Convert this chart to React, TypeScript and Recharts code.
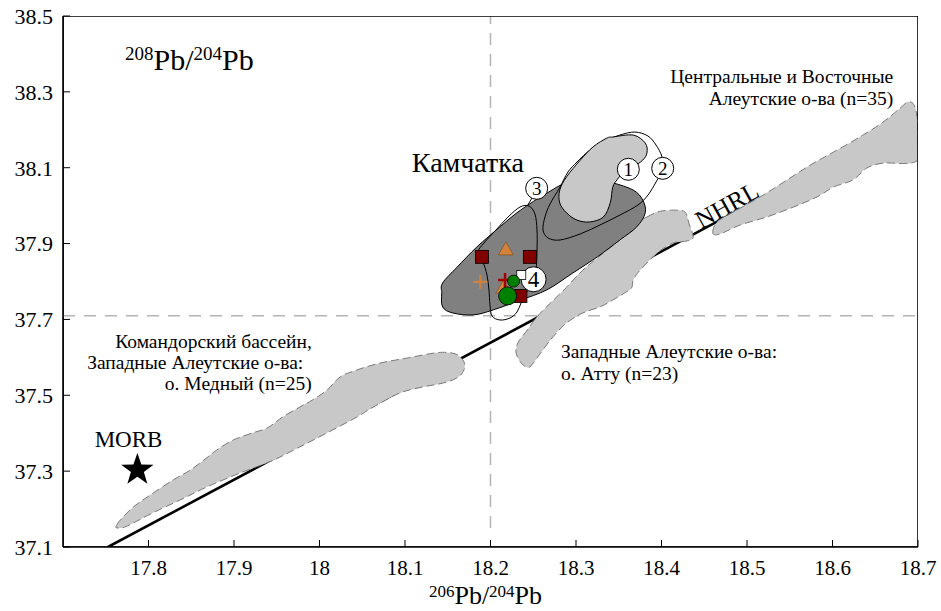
import React from 'react';
import { ScatterChart, Scatter, XAxis, YAxis } from 'recharts';

const FONT = "'Liberation Serif', 'DejaVu Serif', 'Times New Roman', serif";

// axis ticks
const xTicks = [17.8, 17.9, 18, 18.1, 18.2, 18.3, 18.4, 18.5, 18.6, 18.7];
const yTicks = [37.1, 37.3, 37.5, 37.7, 37.9, 38.1, 38.3, 38.5];

// reference lines
const frame = [[17.7, 37.1], [18.7, 37.1], [18.7, 38.5], [17.7, 38.5], [17.7, 37.1]];
const nhrl = [[17.7526, 37.1], [18.7, 38.2407]];
const vDash = [[18.2, 37.15], [18.2, 38.5]];
const hDash = [[17.7, 37.71], [18.7, 37.71]];

// fields (outlines in data units)
const medny = [
  [17.763, 37.158], [17.767, 37.171], [17.782, 37.205], [17.802, 37.237], [17.829, 37.277],
  [17.849, 37.303], [17.868, 37.335], [17.88, 37.356], [17.899, 37.382], [17.922, 37.401],
  [17.939, 37.414], [17.957, 37.443], [17.977, 37.469], [17.992, 37.488], [18.009, 37.514],
  [18.024, 37.548], [18.044, 37.567], [18.071, 37.585], [18.102, 37.598], [18.133, 37.611],
  [18.149, 37.613], [18.161, 37.607], [18.169, 37.588], [18.169, 37.567], [18.161, 37.546],
  [18.144, 37.532], [18.121, 37.522], [18.094, 37.506], [18.063, 37.469], [18.044, 37.443],
  [18.009, 37.401], [17.977, 37.364], [17.946, 37.329], [17.907, 37.295], [17.868, 37.258],
  [17.837, 37.224], [17.805, 37.19], [17.782, 37.163], [17.77, 37.151], [17.762, 37.151],
];
const attu = [
  [18.383, 37.97], [18.398, 37.985], [18.418, 37.988], [18.428, 37.982], [18.432, 37.954],
  [18.437, 37.917], [18.43, 37.907], [18.413, 37.901], [18.395, 37.875], [18.375, 37.83],
  [18.367, 37.804], [18.365, 37.783], [18.357, 37.77], [18.343, 37.751], [18.328, 37.733],
  [18.308, 37.717], [18.289, 37.691], [18.273, 37.654], [18.261, 37.619], [18.25, 37.585],
  [18.244, 37.573], [18.236, 37.585], [18.23, 37.611], [18.232, 37.638], [18.243, 37.672],
  [18.254, 37.706], [18.27, 37.743], [18.289, 37.785], [18.308, 37.83], [18.332, 37.875],
  [18.355, 37.917], [18.371, 37.954],
];
const central = [
  [18.46, 37.928], [18.465, 37.957], [18.484, 37.983], [18.519, 38.028], [18.547, 38.068],
  [18.574, 38.107], [18.601, 38.141], [18.632, 38.181], [18.659, 38.22], [18.679, 38.257],
  [18.688, 38.273], [18.695, 38.267], [18.699, 38.234], [18.7, 38.173], [18.7, 38.126],
  [18.695, 38.114], [18.682, 38.111], [18.659, 38.112], [18.64, 38.099], [18.624, 38.068],
  [18.601, 38.049], [18.582, 38.023], [18.554, 37.996], [18.523, 37.97], [18.492, 37.949],
  [18.468, 37.925],
];
const kamchatka = [
  [18.143, 37.77], [18.144, 37.796], [18.161, 37.838], [18.184, 37.891], [18.211, 37.944],
  [18.235, 37.988], [18.266, 38.033], [18.289, 38.06], [18.32, 38.068], [18.343, 38.06],
  [18.367, 38.041], [18.378, 38.015], [18.381, 37.981], [18.371, 37.944], [18.351, 37.909],
  [18.325, 37.865], [18.296, 37.822], [18.266, 37.778], [18.235, 37.751], [18.203, 37.725],
  [18.18, 37.712], [18.156, 37.717], [18.144, 37.733],
];
const field1 = [
  [18.343, 38.181], [18.367, 38.186], [18.381, 38.165], [18.383, 38.139], [18.378, 38.12],
  [18.367, 38.102], [18.355, 38.086], [18.348, 38.068], [18.343, 38.049], [18.34, 38.007],
  [18.332, 37.97], [18.316, 37.957], [18.301, 37.962], [18.289, 37.981], [18.281, 38.007],
  [18.281, 38.041], [18.289, 38.076], [18.305, 38.12], [18.32, 38.155], [18.336, 38.178],
];
const field2 = [
  [18.2813, 38.049], [18.2906, 38.0887], [18.3012, 38.115], [18.3164, 38.1467], [18.3339, 38.1704],
  [18.3515, 38.1862], [18.369, 38.1941], [18.3842, 38.1836], [18.3936, 38.1598], [18.4006, 38.1282],
  [18.4006, 38.0939], [18.3936, 38.0623], [18.3842, 38.028], [18.3725, 38.0017], [18.3515, 37.9753],
  [18.328, 37.9489], [18.3047, 37.9252], [18.2813, 37.9094], [18.2673, 37.9147], [18.2614, 37.9358],
  [18.2637, 37.97], [18.2696, 38.0043],
];
const field34 = [
  [18.2345, 37.9964], [18.2205, 37.97], [18.2064, 37.9358], [18.1924, 37.9015], [18.1854, 37.8777],
  [18.1912, 37.8514], [18.1959, 37.8171], [18.1982, 37.7776], [18.1994, 37.738], [18.2018, 37.709],
  [18.2111, 37.6985], [18.2228, 37.7037], [18.231, 37.7196], [18.2357, 37.7433], [18.2415, 37.7697],
  [18.2485, 37.7908], [18.2532, 37.8303], [18.2544, 37.883], [18.2544, 37.9358], [18.252, 37.9779],
  [18.245, 37.999],
];
const link3 = [[18.2485, 38.02], [18.243, 37.999]];

// samples
const squares = [[18.19, 37.865], [18.246, 37.865], [18.235, 37.762]];
const triangles = [[18.218, 37.886], [18.215, 37.785]];
const orangePlus = [[18.188, 37.799]];
const redPlus = [[18.217, 37.804]];
const whiteSquare = [[18.236, 37.817]];
const greenSmall = [[18.227, 37.801]];
const greenBig = [[18.22, 37.762]];
const morb = [[17.787, 37.303]];
const numbered = [
  { x: 18.3612, y: 38.0958, n: '1' },
  { x: 18.4014, y: 38.0984, n: '2' },
  { x: 18.254, y: 38.0457, n: '3' },
];
const numbered4 = [{ x: 18.2504, y: 37.8058, n: '4' }];

// texts
const kamchatkaLabel = [{ x: 18.108, y: 38.089, text: 'Камчатка' }];
const centralLabel = [
  { x: 18.671, y: 38.323, text: 'Центральные и Восточные' },
  { x: 18.671, y: 38.265, text: 'Алеутские о-ва (n=35)' },
];
const mednyLabel = [
  { x: 17.991, y: 37.625, text: 'Командорский бассейн,' },
  { x: 17.981, y: 37.569, text: 'Западные Алеутские о-ва:' },
  { x: 17.991, y: 37.514, text: 'о. Медный (n=25)' },
];
const attuLabel = [
  { x: 18.2825, y: 37.598, text: 'Западные Алеутские о-ва:' },
  { x: 18.2825, y: 37.54, text: 'о. Атту (n=23)' },
];
const morbLabel = [{ x: 17.737, y: 37.364, text: 'MORB' }];
const nhrlLabel = [{ x: 18.4766, y: 38.0017, text: 'NHRL' }];
const yTitlePos = [{ x: 17.7725, y: 38.358, a: '208', b: '204' }];

const pts = (arr: number[][]) => arr.map(([x, y]) => ({ x, y }));
const none = () => <g />;

// closed Catmull-Rom curve factory (passes through all outline points)
const smoothClosed = (context: any) => {
  let p: number[][] = [];
  return {
    areaStart() {},
    areaEnd() {},
    lineStart() {
      p = [];
    },
    point(x: number, y: number) {
      p.push([+x, +y]);
    },
    lineEnd() {
      const n = p.length;
      if (!n) return;
      context.moveTo(p[0][0], p[0][1]);
      const t = 1 / 6;
      for (let i = 0; i < n; i++) {
        const p0 = p[(i - 1 + n) % n];
        const p1 = p[i];
        const p2 = p[(i + 1) % n];
        const p3 = p[(i + 2) % n];
        context.bezierCurveTo(
          p1[0] + (p2[0] - p0[0]) * t,
          p1[1] + (p2[1] - p0[1]) * t,
          p2[0] - (p3[0] - p1[0]) * t,
          p2[1] - (p3[1] - p1[1]) * t,
          p2[0],
          p2[1],
        );
      }
      context.closePath();
    },
  };
};

const path = (
  key: string,
  data: number[][],
  fill: string,
  stroke: string,
  sw: number,
  dash?: string,
  curve: any = smoothClosed,
) => (
  <Scatter
    key={key}
    data={pts(data)}
    isAnimationActive={false}
    shape={none}
    line={{ fill, stroke, strokeWidth: sw, strokeDasharray: dash }}
    lineType="joint"
    lineJointType={curve}
  />
);

const pget = (p: any, k: string) => (p.payload && p.payload[k] !== undefined ? p.payload[k] : p[k]);

const textShape = (anchor: string, size: number) => (p: any) => (
  <text x={p.cx} y={p.cy} textAnchor={anchor} fontSize={size} fontFamily={FONT} fill="#000">
    {pget(p, 'text')}
  </text>
);

const squareShape = (size: number, fill: string) => (p: any) => (
  <rect x={p.cx - size / 2} y={p.cy - size / 2} width={size} height={size} fill={fill} stroke="#000" strokeWidth={0.8} />
);
const circleShape = (r: number, fill: string) => (p: any) => (
  <circle cx={p.cx} cy={p.cy} r={r} fill={fill} stroke="#000" strokeWidth={0.8} />
);
const triangleShape = (p: any) => (
  <polygon
    points={`${p.cx},${p.cy - 7} ${p.cx + 7.5},${p.cy + 6} ${p.cx - 7.5},${p.cy + 6}`}
    fill="#D2823A"
    stroke="#7a4a1a"
    strokeWidth={0.6}
  />
);
const plusShape = (color: string, s: number, w: number) => (p: any) => (
  <g stroke={color} strokeWidth={w}>
    <line x1={p.cx - s} y1={p.cy} x2={p.cx + s} y2={p.cy} />
    <line x1={p.cx} y1={p.cy - s} x2={p.cx} y2={p.cy + s} />
  </g>
);
const starShape = (p: any) => {
  const R = 17;
  const r = 6.8;
  const c: string[] = [];
  for (let i = 0; i < 10; i++) {
    const rad = i % 2 === 0 ? R : r;
    const a = -Math.PI / 2 + (i * Math.PI) / 5;
    c.push(`${p.cx + rad * Math.cos(a)},${p.cy + rad * Math.sin(a)}`);
  }
  return <polygon points={c.join(' ')} fill="#000" />;
};
const numberShape = (r: number, fs: number) => (p: any) => (
  <g>
    <circle cx={p.cx} cy={p.cy} r={r} fill="#fff" stroke="#000" strokeWidth={1} />
    <text x={p.cx} y={p.cy + fs * 0.34} textAnchor="middle" fontSize={fs} fontFamily={FONT} fill="#000">
      {pget(p, 'n')}
    </text>
  </g>
);
const nhrlShape = (p: any) => (
  <text
    x={p.cx}
    y={p.cy}
    textAnchor="middle"
    dominantBaseline="central"
    fontSize={25}
    fontFamily={FONT}
    fill="#000"
    transform={`rotate(-29 ${p.cx} ${p.cy})`}
  >
    {pget(p, 'text')}
  </text>
);
const pbTitleShape = (p: any) => (
  <text x={p.cx} y={p.cy} fontFamily={FONT} fontSize={30} fill="#000">
    <tspan fontSize={19} dy={-10}>{pget(p, 'a')}</tspan>
    <tspan fontSize={30} dy={10}>Pb/</tspan>
    <tspan fontSize={19} dy={-10}>{pget(p, 'b')}</tspan>
    <tspan fontSize={30} dy={10}>Pb</tspan>
  </text>
);

const XTitle = (props: any) => {
  const vb = props.viewBox || { x: 63, y: 547, width: 855, height: 64 };
  const cx = vb.x + vb.width / 2 - 5;
  const y = vb.y + 57;
  return (
    <text x={cx} y={y} textAnchor="middle" fontFamily={FONT} fontSize={26} fill="#000">
      <tspan fontSize={17} dy={-7}>206</tspan>
      <tspan fontSize={26} dy={7}>Pb/</tspan>
      <tspan fontSize={17} dy={-7}>204</tspan>
      <tspan fontSize={26} dy={7}>Pb</tspan>
    </text>
  );
};

const sym = (key: string, data: any[], shape: any) => (
  <Scatter key={key} data={data} isAnimationActive={false} shape={shape} />
);

export default function App() {
  return (
    <div style={{ position: 'absolute', left: 0, top: 0, background: '#fff', fontFamily: FONT }}>
      <ScatterChart width={941} height={611} margin={{ top: 16, right: 23, bottom: 0, left: 0 }}>
        <XAxis
          dataKey="x"
          type="number"
          domain={[17.7, 18.7]}
          allowDataOverflow
          ticks={xTicks}
          interval={0}
          tickSize={-7}
          tickMargin={20}
          height={64}
          axisLine={{ stroke: '#000', strokeWidth: 1.6 }}
          tickLine={{ stroke: '#000', strokeWidth: 1 }}
          tick={{ fontSize: 21, fontFamily: FONT, fill: '#000' }}
          label={<XTitle />}
        />
        <YAxis
          dataKey="y"
          type="number"
          domain={[37.1, 38.5]}
          allowDataOverflow
          ticks={yTicks}
          interval={0}
          tickSize={-7}
          tickMargin={17}
          width={63}
          axisLine={{ stroke: '#000', strokeWidth: 1.6 }}
          tickLine={{ stroke: '#000', strokeWidth: 1 }}
          tick={{ fontSize: 22, fontFamily: FONT, fill: '#000' }}
        />
        {path('vdash', vDash, 'none', '#b4b4b4', 1.5, '12 9', 'linear')}
        {path('hdash', hDash, 'none', '#b4b4b4', 1.5, '12 9', 'linear')}
        {path('nhrl', nhrl, 'none', '#000', 2.6, undefined, 'linear')}
        {path('medny', medny, '#c8c8c8', '#7a7a7a', 1, '8 4')}
        {path('attu', attu, '#c8c8c8', '#7a7a7a', 1, '8 4')}
        {path('central', central, '#c8c8c8', '#7a7a7a', 1, '8 4')}
        {path('kamchatka', kamchatka, '#808080', '#000', 1)}
        {path('field2', field2, 'none', '#000', 1)}
        {path('field1', field1, '#c8c8c8', '#000', 1)}
        {path('field34', field34, 'none', '#000', 1)}
        {path('link3', link3, 'none', '#000', 1, undefined, 'linear')}
        {path('frame', frame, 'none', '#000', 1.6, undefined, 'linear')}
        {sym('squares', pts(squares), squareShape(13, '#800000'))}
        {sym('triangles', pts(triangles), triangleShape)}
        {sym('oplus', pts(orangePlus), plusShape('#D2823A', 7, 2))}
        {sym('rplus', pts(redPlus), plusShape('#A00000', 7, 2.5))}
        {sym('num4', numbered4, numberShape(12.5, 23))}
        {sym('wsq', pts(whiteSquare), squareShape(9, '#fff'))}
        {sym('gsmall', pts(greenSmall), circleShape(6, '#008000'))}
        {sym('gbig', pts(greenBig), circleShape(9, '#008000'))}
        {sym('nums', numbered, numberShape(11, 19))}
        {sym('morb', pts(morb), starShape)}
        {sym('kamLabel', kamchatkaLabel, textShape('start', 28))}
        {sym('centralLabel', centralLabel, textShape('end', 19.5))}
        {sym('mednyLabel', mednyLabel, textShape('end', 19.5))}
        {sym('attuLabel', attuLabel, textShape('start', 19.5))}
        {sym('morbLabel', morbLabel, textShape('start', 23))}
        {sym('nhrlLabel', nhrlLabel, nhrlShape)}
        {sym('pbTitle', yTitlePos, pbTitleShape)}
      </ScatterChart>
    </div>
  );
}
